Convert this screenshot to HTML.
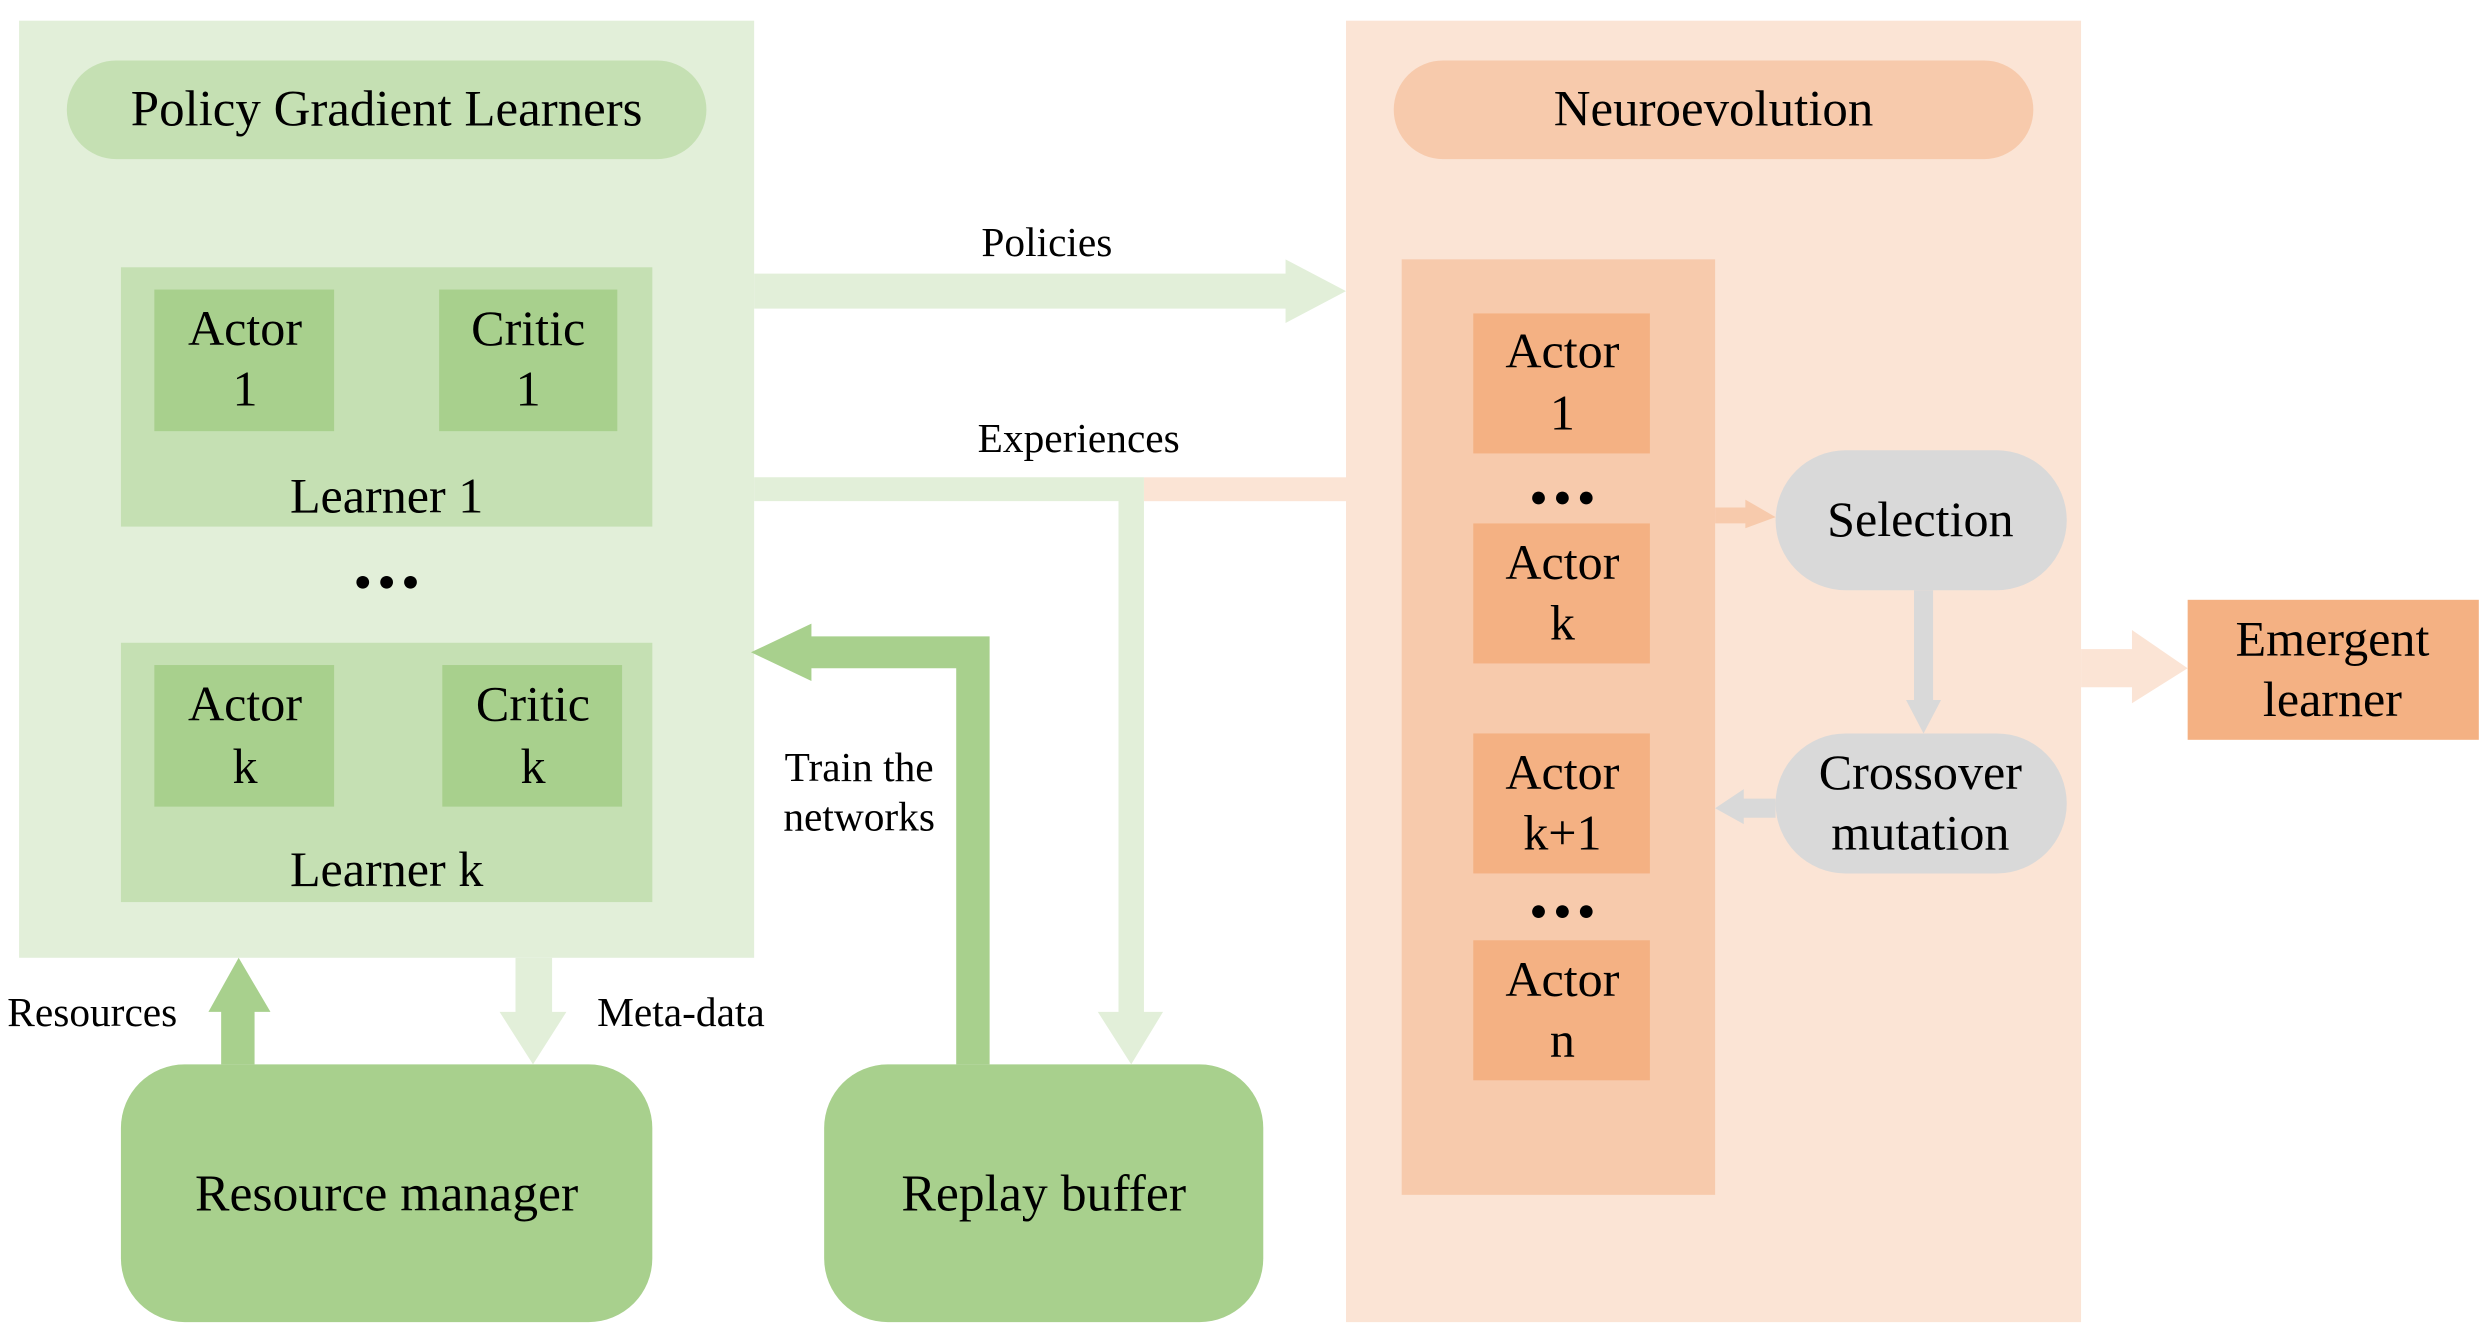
<!DOCTYPE html>
<html><head><meta charset="utf-8"><style>
html,body{margin:0;padding:0;background:#fff;}
svg{display:block;}
text{font-family:"Liberation Serif",serif;fill:#000;text-anchor:middle;}
</style></head><body>
<svg width="2482" height="1342" viewBox="0 0 1560 843.5" preserveAspectRatio="none" xmlns="http://www.w3.org/2000/svg">
<rect x="12" y="13" width="462" height="589" fill="#e2efd9"/>
<rect x="42" y="38" width="402" height="62" rx="31" fill="#c5e0b3"/>
<text x="243" y="79" font-size="32">Policy Gradient Learners</text>
<rect x="76" y="168" width="334" height="163" fill="#c5e0b3"/>
<rect x="97" y="182" width="113" height="89" fill="#a8d08d"/>
<rect x="276" y="182" width="112" height="89" fill="#a8d08d"/>
<text x="154" y="217" font-size="31.5">Actor</text><text x="154" y="255" font-size="31.5">1</text>
<text x="332" y="217" font-size="31.5">Critic</text><text x="332" y="255" font-size="31.5">1</text>
<text x="243" y="322" font-size="31.5">Learner 1</text>
<circle cx="228" cy="366" r="4"/><circle cx="243" cy="366" r="4"/><circle cx="258" cy="366" r="4"/>
<rect x="76" y="404" width="334" height="163" fill="#c5e0b3"/>
<rect x="97" y="418" width="113" height="89" fill="#a8d08d"/>
<rect x="278" y="418" width="113" height="89" fill="#a8d08d"/>
<text x="154" y="453" font-size="31.5">Actor</text><text x="154" y="492" font-size="31.5">k</text>
<text x="335" y="453" font-size="31.5">Critic</text><text x="335" y="492" font-size="31.5">k</text>
<text x="243" y="557" font-size="31.5">Learner k</text>

<rect x="76" y="669" width="334" height="162" rx="40" fill="#a8d08d"/>
<text x="243" y="761" font-size="32.5">Resource manager</text>
<rect x="518" y="669" width="276" height="162" rx="40" fill="#a8d08d"/>
<text x="656" y="761" font-size="32.5">Replay buffer</text>

<polygon points="139,669 160,669 160,636 170,636 150,602 131,636 139,636" fill="#a8d08d"/>
<text x="58" y="645" font-size="26">Resources</text>
<polygon points="324,602 347,602 347,636 356,636 335,669 314,636 324,636" fill="#e2efd9"/>
<text x="428" y="645" font-size="26">Meta-data</text>
<polygon points="601,669 622,669 622,400 510,400 510,392 472,410 510,428 510,420 601,420" fill="#a8d08d"/>
<text x="540" y="491" font-size="26">Train the</text>
<text x="540" y="522" font-size="26">networks</text>
<rect x="719" y="300" width="128" height="15" fill="#fbe4d5"/>
<polygon points="474,300 719,300 719,636 731,636 711,669 690,636 703,636 703,315 474,315" fill="#e2efd9"/>
<text x="678" y="284" font-size="26">Experiences</text>
<polygon points="474,172 808,172 808,163 846,183 808,203 808,194 474,194" fill="#e2efd9"/>
<text x="658" y="161" font-size="26">Policies</text>

<rect x="846" y="13" width="462" height="818" fill="#fbe4d5"/>
<rect x="876" y="38" width="402" height="62" rx="31" fill="#f7caac"/>
<text x="1077" y="79" font-size="32">Neuroevolution</text>
<rect x="881" y="163" width="197" height="588" fill="#f7caac"/>
<rect x="926" y="197" width="111" height="88" fill="#f4b183"/>
<text x="982" y="231" font-size="31.5">Actor</text><text x="982" y="270" font-size="31.5">1</text>
<circle cx="967" cy="313" r="4"/><circle cx="982" cy="313" r="4"/><circle cx="997" cy="313" r="4"/>
<rect x="926" y="329" width="111" height="88" fill="#f4b183"/>
<text x="982" y="364" font-size="31.5">Actor</text><text x="982" y="402" font-size="31.5">k</text>
<rect x="926" y="461" width="111" height="88" fill="#f4b183"/>
<text x="982" y="496" font-size="31.5">Actor</text><text x="982" y="534" font-size="31.5">k+1</text>
<circle cx="967" cy="573" r="4"/><circle cx="982" cy="573" r="4"/><circle cx="997" cy="573" r="4"/>
<rect x="926" y="591" width="111" height="88" fill="#f4b183"/>
<text x="982" y="626" font-size="31.5">Actor</text><text x="982" y="664" font-size="31.5">n</text>

<rect x="1116" y="283" width="183" height="88" rx="44" fill="#d9d9d9"/>
<text x="1207" y="337" font-size="31.5">Selection</text>
<rect x="1116" y="461" width="183" height="88" rx="44" fill="#d9d9d9"/>
<text x="1207" y="496" font-size="31.5">Crossover</text>
<text x="1207" y="534" font-size="31.5">mutation</text>

<polygon points="1078,319 1097,319 1097,314 1116,325 1097,332 1097,329 1078,329" fill="#f7caac"/>
<polygon points="1203,371 1215,371 1215,440 1220,440 1209,461 1198,440 1203,440" fill="#d9d9d9"/>
<polygon points="1116,502 1096,502 1096,496 1078,508 1096,518 1096,514 1116,514" fill="#d9d9d9"/>

<polygon points="1308,408 1340,408 1340,396 1375,420 1340,442 1340,432 1308,432" fill="#fbe4d5"/>
<rect x="1375" y="377" width="183" height="88" fill="#f4b183"/>
<text x="1466" y="412" font-size="31.5">Emergent</text>
<text x="1466" y="450" font-size="31.5">learner</text>
</svg>
</body></html>
